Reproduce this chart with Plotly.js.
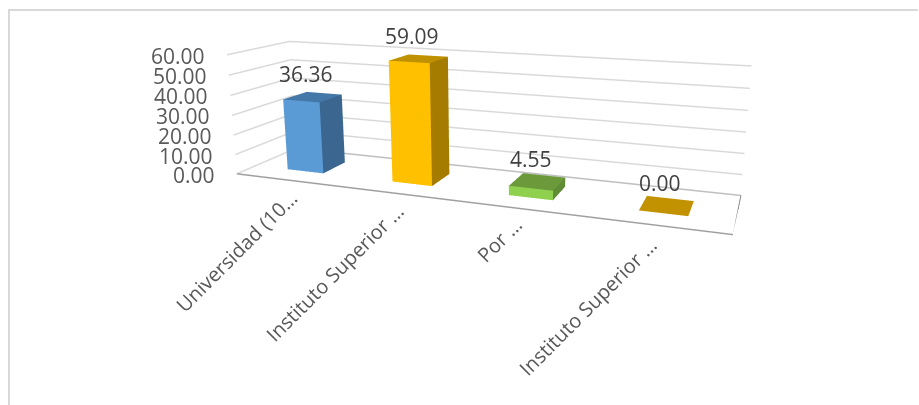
<!DOCTYPE html><html><head><meta charset="utf-8"><script src="https://cdn.plot.ly/plotly-3.0.1.min.js"></script>
<style>html,body{margin:0;background:#fff;overflow:hidden;width:919px;height:405px}
#g{position:absolute;left:0;top:-191px;width:972px;height:659px}
#fl{position:absolute;left:8px;top:9px;width:910px;height:396px;border-left:2px solid #D9D9D9;border-top:2px solid #D9D9D9;box-sizing:border-box;z-index:5;pointer-events:none}</style></head><body><div id="g"></div><div id="fl"></div>
<script>
const categories=["Universidad (10…","Instituto Superior …","Por …","Instituto Superior …"];
const values=[36.36,59.09,4.55,0.00];
const yTicks=[0,10,20,30,40,50,60];
const frontColors=['#5B9BD5','#FFC000','#8FD14F','#C29200'];
const sideColors=['#3A6690','#A67C00','#5F8C35','#C29200'];
const topColors=['#4478A8','#BF9000','#6C9A3A','#C29200'];
const catShiftX=[18,15,11,8], catShiftY=[-2,-2,0,-4];
const halfWidth=0.1759, yFront=0.5-0.2012, yBack=0.5+0.2012;
const tickFont={family:'"Open Sans"',size:21,color:'#595959'};
const labelFont={family:'"Open Sans"',size:21,color:'#404040'};
const catFont={family:'"Open Sans"',size:20,color:'#595959'};
const traces=values.map((v,n)=>{const a=n-halfWidth,b=n+halfWidth;
 return {type:'mesh3d',x:[a,b,b,a,a,b,b,a],y:[yFront,yFront,yBack,yBack,yFront,yFront,yBack,yBack],z:[0,0,0,0,v,v,v,v],
 i:[0,0,1,1,4,4],j:[1,5,2,6,5,6],k:[5,4,6,5,6,7],
 facecolor:[frontColors[n],frontColors[n],sideColors[n],sideColors[n],topColors[n],topColors[n]],
 flatshading:true,lighting:{ambient:1,diffuse:0,specular:0,roughness:1,fresnel:0},hoverinfo:'skip',showscale:false}});
const line=(x,y,z,color,width)=>({type:'scatter3d',mode:'lines',x,y,z,line:{color,width},hoverinfo:'skip',showlegend:false});
yTicks.forEach(t=>traces.push(line([-.5,-.5,3.5],[0,1,1],[t,t,t],'#D9D9D9',3)));
traces.push(line([-.5,3.5],[0,0],[0,0],'#A0A0A0',3));
traces.push(line([3.5,3.5],[0,1],[0,0],'#7F7F7F',2));
traces.push(line([-.5,3.5],[1,1],[0,0],'#BFBFBF',3));
const ann=[];
yTicks.forEach(t=>ann.push({x:-.5,y:0,z:t,text:t.toFixed(2),showarrow:false,xanchor:'right',yanchor:'middle',xshift:-20,yshift:-1,font:tickFont}));
values.forEach((v,n)=>ann.push({x:n,y:.5,z:v,text:v.toFixed(2),showarrow:false,xanchor:'center',yanchor:'middle',xshift:-7,yshift:23,font:labelFont}));
categories.forEach((c,n)=>ann.push({x:n,y:0,z:0,text:c,showarrow:false,textangle:-45,xanchor:'right',yanchor:'top',xshift:catShiftX[n],yshift:catShiftY[n],font:catFont}));
const ax=(r,o)=>Object.assign({range:r,autorange:false,showgrid:false,zeroline:false,showline:false,showticklabels:false,ticks:'',title:{text:''},showspikes:false,showbackground:false},o||{});
Plotly.newPlot('g',traces,{width:972,height:659,margin:{l:0,r:0,t:0,b:0},paper_bgcolor:'rgba(0,0,0,0)',showlegend:false,hovermode:false,
scene:{domain:{x:[0,1],y:[0,1]},aspectmode:'manual',aspectratio:{x:1,y:.2199,z:.2513},hovermode:false,dragmode:'orbit',
camera:{eye:{x:.5503,y:-1.4247,z:.3612},center:{x:.018,y:-.0012,z:-.0289},up:{x:-.0867,y:.233,z:.9686}},
xaxis:ax([-.5,3.5]),yaxis:ax([0,1]),zaxis:ax([0,60]),annotations:ann}},{displayModeBar:false});
</script></body></html>
